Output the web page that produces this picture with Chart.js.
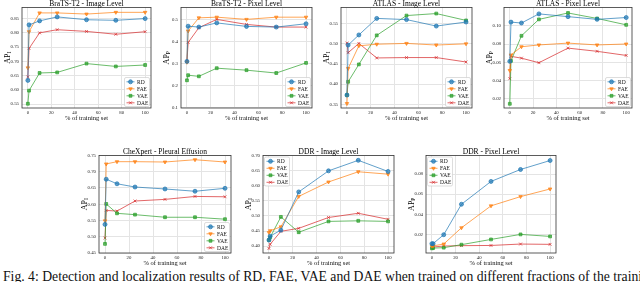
<!DOCTYPE html>
<html>
<head>
<meta charset="utf-8">
<script src="https://cdn.jsdelivr.net/npm/chart.js@4.4.1/dist/chart.umd.min.js"></script>
<style>
body { margin: 0; width: 640px; height: 282px; overflow: hidden; background: #fff; position: relative; }
canvas { position: absolute; }
#caption { position: absolute; left: 3px; top: 269.5px; font: 13.7px "Liberation Serif", serif; line-height: 13.7px; white-space: nowrap; color: #111; }
</style>
</head>
<body>
<div id="caption">Fig. 4: Detection and localization results of RD, FAE, VAE and DAE when trained on different fractions of the training set.</div>
<script>
// x positions: % of training set
const pctTrain = [0, 1, 10, 25, 50, 75, 100];
const methods = ['RD', 'FAE', 'VAE', 'DAE'];
const xTicks = [0, 20, 40, 60, 80, 100];

// rows follow methods order: RD, FAE, VAE, DAE
const bratsImage = [
	[0.633, 0.828, 0.842, 0.856, 0.846, 0.844, 0.850],
	[0.677, 0.804, 0.870, 0.870, 0.866, 0.872, 0.872],
	[0.551, 0.597, 0.659, 0.661, 0.692, 0.682, 0.687],
	[0.645, 0.745, 0.800, 0.811, 0.805, 0.795, 0.804]
];
const bratsPixel = [
	[0.311, 0.471, 0.467, 0.486, 0.470, 0.467, 0.482],
	[0.307, 0.449, 0.509, 0.512, 0.502, 0.512, 0.512],
	[0.225, 0.248, 0.243, 0.280, 0.271, 0.258, 0.304],
	[0.311, 0.397, 0.464, 0.502, 0.479, 0.467, 0.467]
];
const atlasImage = [
	[0.373, 0.497, 0.522, 0.563, 0.560, 0.544, 0.554],
	[0.352, 0.439, 0.495, 0.499, 0.501, 0.497, 0.500],
	[0.373, 0.406, 0.449, 0.521, 0.570, 0.575, 0.558],
	[0.502, 0.478, 0.501, 0.465, 0.466, 0.466, 0.455]
];
const atlasPixel = [
	[0.061, 0.104, 0.103, 0.113, 0.110, 0.107, 0.109],
	[0.051, 0.068, 0.077, 0.079, 0.081, 0.079, 0.080],
	[0.0145, 0.0615, 0.089, 0.107, 0.114, 0.108, 0.101],
	[0.042, 0.0665, 0.0645, 0.0595, 0.0755, 0.072, 0.0675]
];
const chexpert = [
	[0.538, 0.677, 0.663, 0.653, 0.647, 0.640, 0.649],
	[0.549, 0.724, 0.731, 0.731, 0.730, 0.737, 0.730],
	[0.478, 0.601, 0.572, 0.568, 0.560, 0.560, 0.554],
	[0.496, 0.581, 0.579, 0.610, 0.615, 0.624, 0.623]
];
const ddrImage = [
	[0.420, 0.433, 0.453, 0.580, 0.650, 0.685, 0.648],
	[0.445, 0.451, 0.464, 0.565, 0.613, 0.647, 0.639],
	[0.420, 0.429, 0.497, 0.446, 0.482, 0.484, 0.482],
	[0.392, 0.406, 0.449, 0.459, 0.495, 0.509, 0.489]
];
const ddrPixel = [
	[0.0108, 0.0108, 0.0197, 0.050, 0.0727, 0.0846, 0.0935],
	[0.0084, 0.0086, 0.0104, 0.0266, 0.0484, 0.0576, 0.0652],
	[0.0061, 0.0064, 0.0068, 0.0098, 0.015, 0.020, 0.018],
	[0.0071, 0.0075, 0.0084, 0.0088, 0.009, 0.0104, 0.0101]
];

const bratsImageTicks = [0.55, 0.60, 0.65, 0.70, 0.75, 0.80, 0.85];
const bratsPixelTicks = [0.1, 0.2, 0.3, 0.4, 0.5];
const atlasImageTicks = [0.35, 0.40, 0.45, 0.50, 0.55];
const atlasPixelTicks = [0.02, 0.04, 0.06, 0.08, 0.10];
const chexpertTicks = [0.45, 0.50, 0.55, 0.60, 0.65, 0.70, 0.75];
const ddrImageTicks = [0.40, 0.45, 0.50, 0.55, 0.60, 0.65, 0.70];
const ddrPixelTicks = [0.02, 0.04, 0.06, 0.08];

const SERIF = '"Liberation Serif", serif';
const TITLE_H = 7.5, Y_W = 20, X_H = 14, PAD_R = 2;

const styles = [
	{ rgb: '31,119,180', point: 'circle', rot: 0 },
	{ rgb: '255,127,14', point: 'triangle', rot: 180 },
	{ rgb: '44,160,44', point: 'rect', rot: 0 },
	{ rgb: '214,39,40', point: 'crossRot', rot: 0 }
];

const panels = [
	{ title: 'BraTS-T2 - Image Level', sub: 'I', data: bratsImage, ticks: bratsImageTicks, dec: 2, ymin: 0.536, ymax: 0.889, legend: 'br', box: [22, 7, 154, 108] },
	{ title: 'BraTS-T2 - Pixel Level', sub: 'P', data: bratsPixel, ticks: bratsPixelTicks, dec: 1, ymin: 0.099, ymax: 0.556, legend: 'br', box: [181, 7, 315, 108] },
	{ title: 'ATLAS - Image Level', sub: 'I', data: atlasImage, ticks: atlasImageTicks, dec: 2, ymin: 0.341, ymax: 0.590, legend: 'br', box: [341, 7, 475, 108] },
	{ title: 'ATLAS - Pixel Level', sub: 'P', data: atlasPixel, ticks: atlasPixelTicks, dec: 2, ymin: 0.0099, ymax: 0.120, legend: 'br', box: [504, 7, 635, 108] },
	{ title: 'CheXpert - Pleural Effusion', sub: 'I', data: chexpert, ticks: chexpertTicks, dec: 2, ymin: 0.45, ymax: 0.75, legend: 'br', box: [99, 155, 234, 253] },
	{ title: 'DDR - Image Level', sub: 'I', data: ddrImage, ticks: ddrImageTicks, dec: 2, ymin: 0.377, ymax: 0.701, legend: 'tl', box: [263, 155, 397, 253] },
	{ title: 'DDR - Pixel Level', sub: 'P', data: ddrPixel, ticks: ddrPixelTicks, dec: 2, ymin: 0.0015, ymax: 0.0985, legend: 'tl', box: [426, 155, 559, 253] }
];

// frame, title, y label with subscript and the inner legend
const decor = {
	id: 'decor',
	afterDraw(chart, args, opts) {
		const ctx = chart.ctx;
		const a = chart.chartArea;
		ctx.save();
		ctx.strokeStyle = '#333';
		ctx.lineWidth = 0.8;
		ctx.strokeRect(a.left, a.top, a.right - a.left, a.bottom - a.top);

		ctx.fillStyle = '#000';
		ctx.font = '7.5px ' + SERIF;
		ctx.textAlign = 'center';
		ctx.textBaseline = 'alphabetic';
		ctx.fillText(opts.title, (a.left + a.right) / 2, a.top - 1.2);

		// y axis label
		ctx.save();
		ctx.translate(5, (a.top + a.bottom) / 2);
		ctx.rotate(-Math.PI / 2);
		ctx.font = '8px ' + SERIF;
		const w1 = ctx.measureText('AP').width;
		ctx.font = '5.5px ' + SERIF;
		const w2 = ctx.measureText(opts.sub).width;
		ctx.textAlign = 'left';
		ctx.font = '8px ' + SERIF;
		ctx.fillText('AP', -(w1 + w2) / 2, 2.5);
		ctx.font = '5.5px ' + SERIF;
		ctx.fillText(opts.sub, -(w1 + w2) / 2 + w1, 4.2);
		ctx.restore();

		// legend box
		const bw = 25, bh = 29, rowH = 7;
		const bx = opts.legend === 'br' ? a.right - bw - 1.5 : a.left + 1.5;
		const by = opts.legend === 'br' ? a.bottom - bh - 1.5 : a.top + 1.5;
		ctx.fillStyle = 'rgba(255,255,255,0.85)';
		ctx.strokeStyle = '#cfcfcf';
		ctx.lineWidth = 0.7;
		ctx.beginPath();
		ctx.roundRect(bx, by, bw, bh, 1.5);
		ctx.fill();
		ctx.stroke();
		ctx.font = '5.5px ' + SERIF;
		ctx.textAlign = 'left';
		ctx.textBaseline = 'middle';
		chart.data.datasets.forEach((ds, i) => {
			const cy = by + 4.3 + i * rowH;
			ctx.strokeStyle = ds.borderColor;
			ctx.fillStyle = ds.pointBackgroundColor;
			ctx.lineWidth = 1;
			ctx.beginPath();
			ctx.moveTo(bx + 2, cy);
			ctx.lineTo(bx + 10, cy);
			ctx.stroke();
			Chart.helpers.drawPoint(ctx, {
				pointStyle: ds.pointStyle, radius: 2, rotation: ds.pointRotation, borderWidth: 1
			}, bx + 6, cy);
			ctx.fillStyle = '#111';
			ctx.fillText(ds.label, bx + 12.5, cy + 0.3);
		});
		ctx.restore();
	}
};

panels.forEach(p => {
	const [l, t, r, b] = p.box;
	const cv = document.createElement('canvas');
	cv.width = r - l + Y_W + PAD_R;
	cv.height = TITLE_H + (b - t) + X_H;
	cv.style.left = (l - Y_W) + 'px';
	cv.style.top = (t - TITLE_H) + 'px';
	document.body.appendChild(cv);

	const datasets = methods.map((m, i) => ({
		label: m,
		data: pctTrain.map((x, j) => ({ x: x, y: p.data[i][j] })),
		borderColor: 'rgba(' + styles[i].rgb + ',0.7)',
		backgroundColor: 'rgba(' + styles[i].rgb + ',0.7)',
		pointBackgroundColor: 'rgba(' + styles[i].rgb + ',0.7)',
		pointBorderColor: 'rgba(' + styles[i].rgb + ',0.7)',
		pointStyle: styles[i].point,
		pointRotation: styles[i].rot,
		pointRadius: 2,
		pointBorderWidth: 1,
		borderWidth: 1,
		tension: 0
	}));

	new Chart(cv, {
		type: 'line',
		data: { datasets: datasets },
		options: {
			responsive: false,
			animation: false,
			devicePixelRatio: 1,
			layout: { padding: { top: TITLE_H, right: PAD_R, left: 0, bottom: 0 } },
			plugins: {
				legend: { display: false },
				tooltip: { enabled: false },
				decor: { title: p.title, sub: p.sub, legend: p.legend }
			},
			scales: {
				x: {
					type: 'linear',
					min: -5,
					max: 105,
					afterBuildTicks: s => { s.ticks = xTicks.map(v => ({ value: v })); },
					afterFit: s => { s.height = X_H; },
					grid: { color: '#e4e4e4', lineWidth: 1, drawTicks: false },
					border: { display: false },
					ticks: { padding: 2, color: '#222', font: { family: SERIF, size: 4.8 }, maxRotation: 0 },
					title: { display: true, text: '% of training set', color: '#111', padding: 0, font: { family: SERIF, size: 6.5, lineHeight: 1.1 } }
				},
				y: {
					min: p.ymin,
					max: p.ymax,
					afterBuildTicks: s => { s.ticks = p.ticks.map(v => ({ value: v })); },
					afterFit: s => { s.width = Y_W; },
					grid: { color: '#e4e4e4', lineWidth: 1, drawTicks: false },
					border: { display: false },
					ticks: {
						padding: 3, color: '#222', font: { family: SERIF, size: 4.8 },
						callback: v => Number(v).toFixed(p.dec)
					}
				}
			}
		},
		plugins: [decor]
	});
});
</script>
</body>
</html>
